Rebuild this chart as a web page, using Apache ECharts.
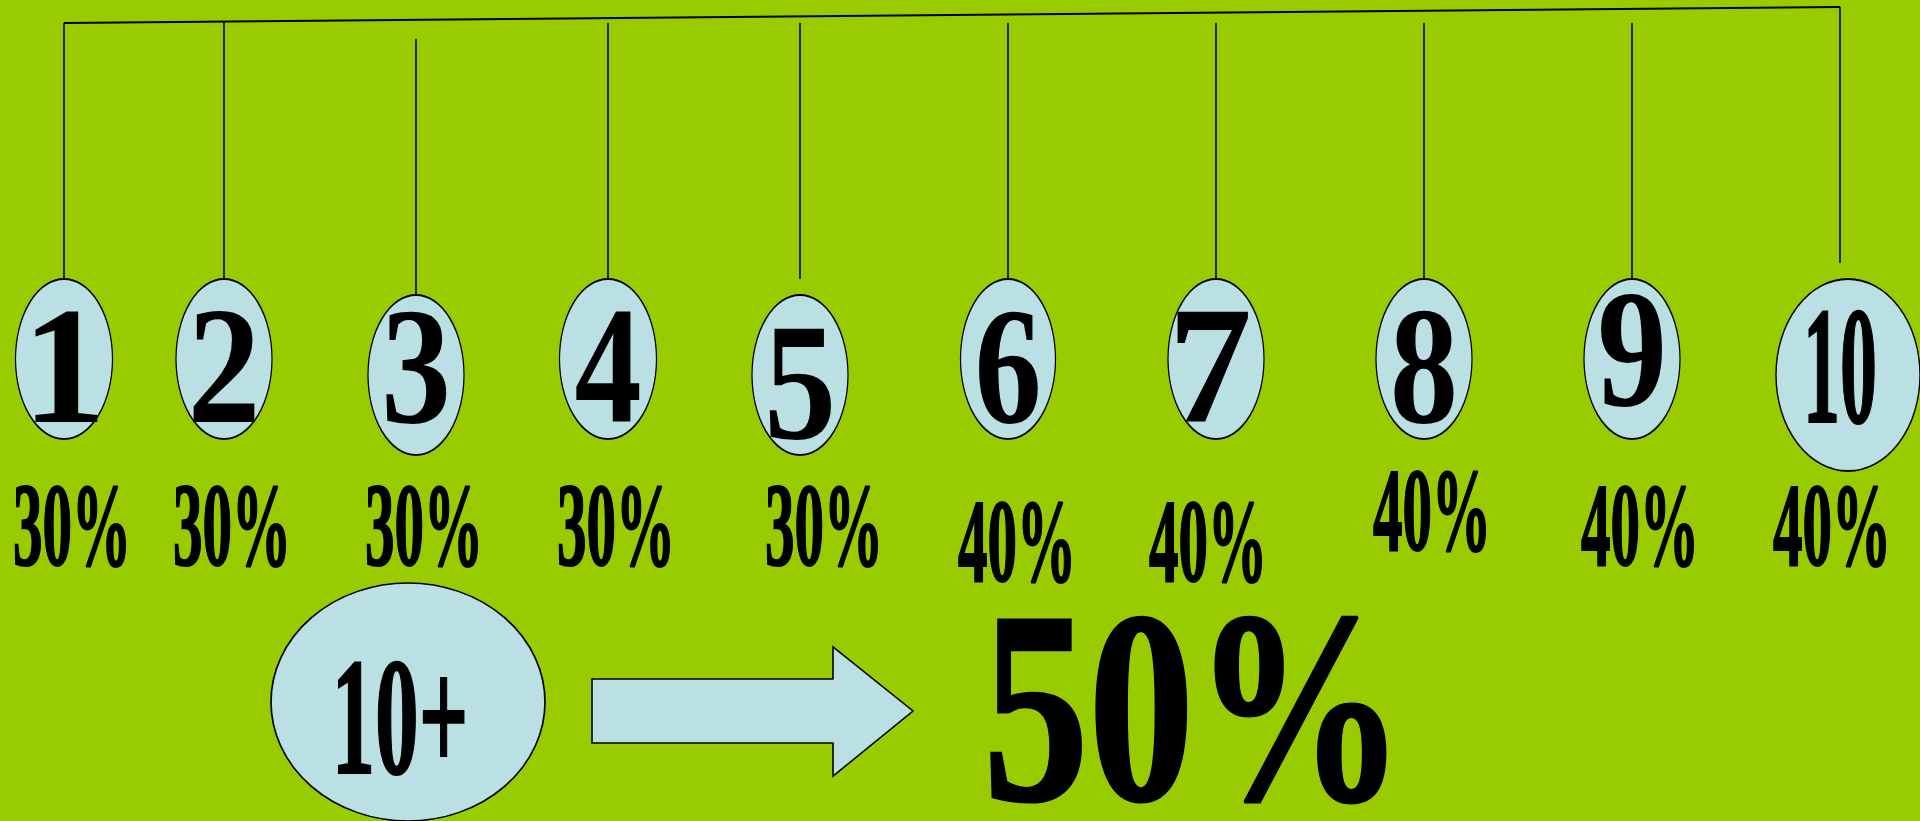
<!DOCTYPE html>
<html><head><meta charset="utf-8">
<script src="https://cdn.jsdelivr.net/npm/echarts@6/dist/echarts.min.js"></script>
<style>html,body{margin:0;padding:0;background:#99CC00;overflow:hidden}#c{width:1920px;height:821px}</style>
</head><body><div id="c"></div>
<script>
// ---- data ----
const ranks = ['1','2','3','4','5','6','7','8','9','10'];
const rates = [30,30,30,30,30,40,40,40,40,40];
const beyondLabel = '10+';
const beyondRate = 50;

// ---- layout (canvas units) ----
const slotX      = [64,224,416,608,800,1008,1216,1424,1632,1848];
const bubbleY    = [359,359,375,359,375,359,359,359,359,375];
const bubbleW    = [97,96,96,97,96,95,96,96,96,144];
const bubbleH    = [160,160,160,160,160,160,160,160,160,192];
const digitX     = [64,224,416,608,800,1008,1210,1424,1632,1840];
const digitY     = [367,367,367,367,383,367,367,367,350,367];
const digitScale = [1,0.87,0.83,0.8,0.86,0.8,1,0.81,0.83,0.44];
const hangerX    = [64,224,416,608,800,1008,1216,1424,1632,1840];
const hangerTop  = [23,21,39,23,23,23,23,23,23,7];
const hangerBot  = [279,279,295,279,279,279,279,279,279,263];
const rateX      = [72,232,424,616,824,1017,1208,1432,1640,1832];
const rateY      = [526,526,526,526,526,542,542,511,526,526];
const rail       = [[64,23],[1840,7]];
const beyondBubble = {x:408, y:702, w:274, h:238};
const beyondText = {x:400, y:718, scale:0.52};
const arrowPts = [[592,679],[833,679],[833,647],[913,711],[833,776],[833,743],[592,743]];
const bigText = {x:1194, y:710, scale:0.77};

const FILL = '#BBE0E3';

const chart = echarts.init(document.getElementById('c'), null, {renderer:'canvas'});

function txt(p, text, size, scale, sw){
  return {type:'text', x:p[0], y:p[1] + size*0.068, scaleX:scale,
    style:{text:text, font:'bold ' + size + 'px "Liberation Serif", "Times New Roman", Times, serif', fill:'#000',
           stroke:'#000', lineWidth:sw,
           align:'center', verticalAlign:'middle'}};
}

chart.setOption({
  backgroundColor:'#99CC00',
  animation:false,
  grid:{left:0,right:0,top:0,bottom:0},
  xAxis:{type:'value',min:0,max:1920,show:false},
  yAxis:{type:'value',min:0,max:821,inverse:true,show:false},
  series:[
    { // rail + hangers
      type:'custom', z:1, silent:true,
      data: ranks.map((r,i)=>[i]),
      renderItem:function(params, api){
        const i = api.value(0);
        const a1 = api.coord([hangerX[i],hangerTop[i]]), a2 = api.coord([hangerX[i],hangerBot[i]]);
        const children = [{type:'line', shape:{x1:a1[0], y1:a1[1], x2:a2[0], y2:a2[1]},
          style:{stroke:'#000', lineWidth:1.6}}];
        if(i===0){
          const a = api.coord(rail[0]), b = api.coord(rail[1]);
          children.push({type:'line', shape:{x1:a[0],y1:a[1],x2:b[0],y2:b[1]}, style:{stroke:'#000',lineWidth:1.8}});
        }
        return {type:'group', children:children};
      }
    },
    { // bubbles
      type:'scatter', z:2, silent:true,
      symbol:'circle',
      data: ranks.map((r,i)=>({value:[slotX[i],bubbleY[i]], symbolSize:[bubbleW[i],bubbleH[i]]})).concat([
        {value:[beyondBubble.x,beyondBubble.y], symbolSize:[beyondBubble.w,beyondBubble.h]}]),
      itemStyle:{color:FILL, borderColor:'#000', borderWidth:1.6, opacity:1}
    },
    { // arrow
      type:'custom', z:2, silent:true,
      data:[[0]],
      renderItem:function(params, api){
        return {type:'polygon', shape:{points:arrowPts.map(p=>api.coord(p))},
          style:{fill:FILL, stroke:'#000', lineWidth:1.6}};
      }
    },
    { // rank numbers and rates
      type:'custom', z:3, silent:true,
      data: ranks.map((r,i)=>[i, rates[i]]),
      renderItem:function(params, api){
        const i = api.value(0);
        return {type:'group', children:[
          txt(api.coord([digitX[i],digitY[i]]), ranks[i], 168, digitScale[i], digitScale[i] < 0.5 ? 2 : 0),
          txt(api.coord([rateX[i],rateY[i]]), api.value(1)+'%', 118, 0.5, 2)
        ]};
      }
    },
    { // beyond
      type:'custom', z:3, silent:true,
      data:[[beyondRate]],
      renderItem:function(params, api){
        return {type:'group', children:[
          txt(api.coord([beyondText.x,beyondText.y]), beyondLabel, 168, beyondText.scale, 2),
          txt(api.coord([bigText.x,bigText.y]), api.value(0)+'%', 274, bigText.scale, 3)
        ]};
      }
    }
  ]
});
</script></body></html>
